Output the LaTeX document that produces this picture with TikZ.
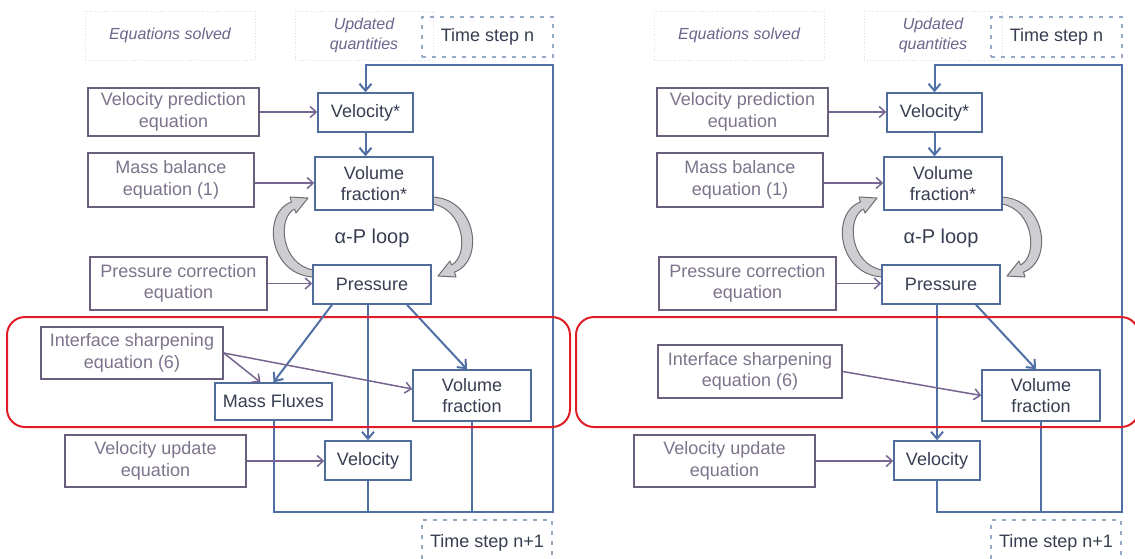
\documentclass[tikz,border=0pt]{standalone}
\usepackage{fontspec}
\setmainfont{Liberation Sans}
\usetikzlibrary{arrows.meta,calc}
\definecolor{eqborder}{RGB}{105,95,125}
\definecolor{eqtxt}{RGB}{125,115,140}
\definecolor{qborder}{RGB}{80,108,155}
\definecolor{qtxt}{RGB}{55,62,82}
\definecolor{blueline}{RGB}{80,112,165}
\definecolor{purline}{RGB}{118,100,145}
\definecolor{hdrtxt}{RGB}{110,100,140}
\definecolor{tsdash}{RGB}{150,170,195}
\definecolor{redc}{RGB}{225,30,40}
\definecolor{loopfill}{RGB}{205,205,210}
\definecolor{loopdraw}{RGB}{110,110,115}
\tikzset{
  eqbox/.style={draw=eqborder, line width=1.5pt, fill=white, text=eqtxt, align=center, inner sep=0pt, font=\fontsize{18}{21.5}\selectfont},
  qbox/.style={draw=qborder, line width=1.5pt, fill=white, text=qtxt, align=center, inner sep=0pt, font=\fontsize{18}{21.5}\selectfont},
  hdrbox/.style={draw=gray!25, dotted, line width=0.8pt, text=hdrtxt, align=center, inner sep=0pt, font=\itshape\fontsize{16}{20}\selectfont},
  tsbox/.style={draw=tsdash, dash pattern=on 4pt off 6pt, line width=1.5pt, text=qtxt, inner sep=0pt, font=\fontsize{18}{21}\selectfont},
  blarr/.style={draw=blueline, line width=2pt, -{Straight Barb[length=7pt,width=12pt]}},
  blline/.style={draw=blueline, line width=2pt},
  purarr/.style={draw=purline, line width=1.5pt, -{Straight Barb[length=6pt,width=11pt]}},
  redbox/.style={draw=redc, line width=2pt, rounded corners=18pt},
  loopar/.style={fill=loopfill, draw=loopdraw, line width=1pt, line join=round},
  looptxt/.style={text=qtxt, font=\fontsize{20}{24}\selectfont},
}
\newcommand\mypanel[2]{%
  % alpha-P loop arrows
  \path[loopar] (433,197) .. controls (478,200) and (484,262) .. (454.5,272) -- (456,277) -- (438,276) -- (450,261) -- (451.5,265) .. controls (469,256) and (465,210) .. (433,204) -- cycle;
  \begin{scope}[rotate around={180:(373,237)}]
    \path[loopar] (433,197) .. controls (478,200) and (484,262) .. (454.5,272) -- (456,277) -- (438,276) -- (450,261) -- (451.5,265) .. controls (469,256) and (465,210) .. (433,204) -- cycle;
  \end{scope}
  \node[hdrbox, minimum width=170pt, minimum height=49pt] (eqs#1) at (170,35.5) {\raisebox{-2pt}{Equations solved}};
  \node[hdrbox, minimum width=138pt, minimum height=49pt] (upq#1) at (364,35.5) {\raisebox{-2pt}{\begin{tabular}{@{}c@{}}Updated\\quantities\end{tabular}}};
  \node[tsbox, minimum width=131pt, minimum height=40pt] (tsn#1) at (487.5,37) {Time step n};
  \node[eqbox, minimum width=171pt, minimum height=48pt] (vpe#1) at (173.5,112) {Velocity prediction\\equation};
  \node[qbox, minimum width=95pt, minimum height=39pt] (vstar#1) at (365.5,112.5) {Velocity*};
  \node[eqbox, minimum width=166pt, minimum height=54pt] (mbe#1) at (171,180) {Mass balance\\equation (1)};
  \node[qbox, minimum width=118pt, minimum height=53pt] (vfstar#1) at (374,183.5) {Volume\\fraction*};
  \node[looptxt] (loop#1) at (372,238) {α-P loop};
  \node[eqbox, minimum width=177pt, minimum height=53pt] (pce#1) at (178.5,283.5) {Pressure correction\\equation};
  \node[qbox, minimum width=118pt, minimum height=39pt] (pres#1) at (372,284.5) {Pressure};
  \node[qbox, minimum width=118pt, minimum height=51pt] (vf#1) at (472,395.5) {Volume\\fraction};
  \node[eqbox, minimum width=181pt, minimum height=52pt] (vue#1) at (155.5,461) {Velocity update\\equation};
  \node[qbox, minimum width=86pt, minimum height=39pt] (vel#1) at (368,460.5) {Velocity};
  \node[tsbox, minimum width=130pt, minimum height=45pt] (tsnn#1) at (487,542.5) {Time step n+1};
  \coordinate (br#1) at (553,512);
  \coordinate (tr#1) at (553,65);
  % connectors
  \draw[blarr] (#2.south) -- (#2.south |- br#1) -- (br#1) -- (tr#1) -- (vstar#1.north |- tr#1) -- (vstar#1.north);
  \draw[blline] (vel#1.south) -- (vel#1.south |- br#1);
  \draw[blline] (vf#1.south) -- (vf#1.south |- br#1);
  \draw[blarr] (vstar#1.south) -- (vstar#1.south |- vfstar#1.north);
  \draw[purarr] (vpe#1.east) -- (vpe#1.east -| vstar#1.west);
  \draw[purarr] ([yshift=-3pt]mbe#1.east) -- ([yshift=-3pt]mbe#1.east -| vfstar#1.west);
  \draw[purarr] (pce#1.east) -- (pce#1.east -| pres#1.west);
  \draw[blarr] (vel#1.north |- pres#1.south) -- (vel#1.north);
  \draw[blarr] ([xshift=35pt]pres#1.south) -- ([xshift=-5pt]vf#1.north);
  \draw[purarr] (vue#1.east) -- (vue#1.east -| vel#1.west);
  \draw[redbox] (7,317) rectangle (570,427);
}
\begin{document}
\begin{tikzpicture}[x=1pt,y=-1pt]
  \useasboundingbox (0,0) rectangle (1135,558);
  \fill[white] (0,0) rectangle (1135,558);
  \clip (0,0) rectangle (1135,558);
  % left panel
  \node[eqbox, minimum width=182pt, minimum height=52pt] (iseL) at (132,353) {Interface sharpening\\equation (6)};
  \node[qbox, minimum width=117pt, minimum height=37pt] (mf) at (273.5,401.5) {Mass Fluxes};
  \mypanel{L}{mf}
  \draw[blarr] ([xshift=-40pt]presL.south) -- (mf.north);
  \draw[purarr] (iseL.east) -- ([xshift=-13pt]mf.north);
  \draw[purarr] (iseL.east) -- ([yshift=6.5pt]vfL.west);
  % right panel
  \begin{scope}[xshift=569pt]
    \mypanel{R}{velR}
    \node[eqbox, minimum width=184pt, minimum height=53pt] (iseR) at (181,371.5) {Interface sharpening\\equation (6)};
    \draw[purarr] (iseR.east) -- (vfR.west);
  \end{scope}
\end{tikzpicture}
\end{document}
